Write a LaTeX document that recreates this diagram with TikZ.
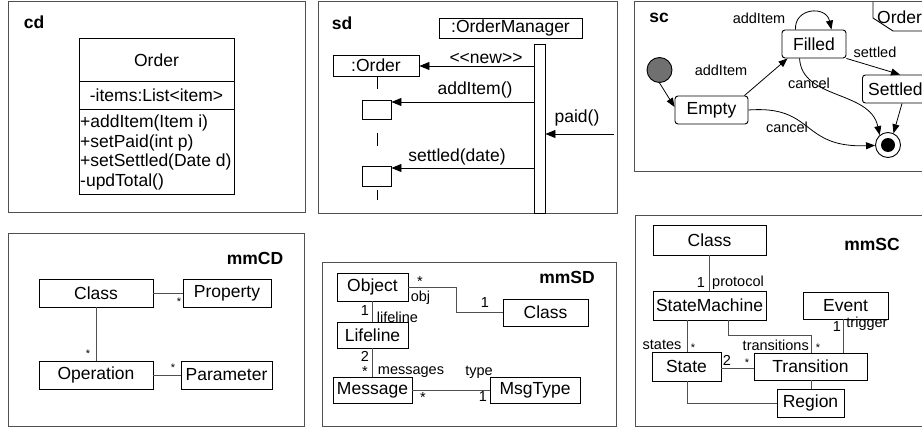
\documentclass[tikz,border=0pt]{standalone}
\usepackage{fontspec}
\setmainfont{Liberation Sans}
\usetikzlibrary{arrows.meta,calc}
\newcommand\fmain{\fontsize{17.5}{20}\selectfont}
\newcommand\fsmall{\fontsize{14.5}{16}\selectfont}
\newcommand\ftiny{\fontsize{11}{12}\selectfont}
\definecolor{frm}{RGB}{80,80,80}
\definecolor{initgray}{RGB}{112,112,112}
\begin{document}
\begin{tikzpicture}[x=1pt,y=-1pt,
 frame/.style={draw=frm,line width=1pt},
 box/.style={draw,fill=white,line width=0.9pt,inner sep=0pt,font=\fmain},
 txt/.style={inner sep=0pt,font=\fmain},
 lbl/.style={inner sep=0pt,font=\fsmall},
 ttl/.style={inner sep=0pt,font=\fmain\bfseries},
 mult/.style={inner sep=0pt,font=\ftiny},
 conn/.style={draw=frm,line width=0.9pt},
 msgarr/.style={draw,line width=0.9pt,-{Triangle[length=10pt,width=8pt]}},
 trarr/.style={draw,line width=0.8pt,-{Triangle[length=9pt,width=7pt]}},
 statebox/.style={box,rounded corners=3pt},
]
\clip (0,0) rectangle (922,428);
\fill[white] (0,0) rectangle (922,428);

% ---------------- cd ----------------
\draw[frame] (8,2) rectangle (305,212);
\node[ttl] (cdT) at (34,22) {cd};
\node[box,minimum width=155pt,minimum height=156pt] (ordC) at (156.5,116) {};
\draw[line width=0.9pt] (79,81) -- (234,81) (79,109) -- (234,109);
\node[txt] (ordN) at (156.5,60) {Order};
\node[txt] (ordA) at (156.5,95) {-items:List<item>};
\node[txt,anchor=west] (m1) at (80,123) {+addItem(Item i)};
\node[txt,anchor=west] (m2) at (80,142.5) {+setPaid(int p)};
\node[txt,anchor=west] (m3) at (80,162) {+setSettled(Date d)};
\node[txt,anchor=west] (m4) at (80,181.5) {-updTotal()};

% ---------------- sd ----------------
\draw[frame] (318,2) rectangle (617,213);
\node[ttl] (sdT) at (342,23) {sd};
\node[box,minimum width=143pt,minimum height=20pt] (om) at (510.5,28) {:OrderManager};
\node[box,minimum width=11pt,minimum height=169pt] (bar) at (539.5,128.5) {};
\node[box,minimum width=86pt,minimum height=21pt] (ordO) at (376,65.5) {:Order};
\node[box,minimum width=29pt,minimum height=19pt] (act1) at (376.5,109.5) {};
\node[box,minimum width=29pt,minimum height=20pt] (act2) at (376.5,176) {};
\coordinate (lifeEnd) at (377,200);
\draw[line width=0.9pt,dash pattern=on 13pt off 44pt] (ordO.south -| lifeEnd) -- (lifeEnd);
\coordinate (yNew) at (0,66);
\coordinate (yAdd) at (0,102);
\coordinate (ySet) at (0,168);
\coordinate (pdS) at (614,134);
\draw[msgarr] (bar.west |- yNew) -- (ordO.east |- yNew);
\draw[msgarr] (bar.west |- yAdd) -- (act1.east |- yAdd);
\draw[msgarr] (pdS) -- (bar.east |- pdS);
\draw[msgarr] (bar.west |- ySet) -- (act2.east |- ySet);
\node[txt] (lNew) at (486,58) {<\kern0pt<new>\kern0pt>};
\node[txt] (lAdd) at (475,90) {addItem()};
\node[txt] (lPaid) at (577,118) {paid()};
\node[txt] (lSet) at (457,157) {settled(date)};

% ---------------- sc ----------------
\draw[frame] (634,2) rectangle (935,171);
\node[ttl] (scT) at (659,18) {sc};
\draw[line width=0.9pt] (873,2) -- (873,18) -- (893,31) -- (925,31);
\node[txt,anchor=west] (tagT) at (877,17) {Order};
\node[circle,draw,fill=initgray,line width=0.9pt,minimum size=25pt,inner sep=0pt] (init) at (659.5,70) {};
\node[statebox,minimum width=73pt,minimum height=28pt] (empty) at (711.5,110) {Empty};
\node[statebox,minimum width=64pt,minimum height=28pt] (filled) at (814,44) {Filled};
\node[statebox,minimum width=66pt,minimum height=28pt,anchor=west] (settled) at (862,89) {Settled};
\node[circle,draw,fill=white,line width=0.9pt,minimum size=25pt,inner sep=0pt] (final) at (888,145) {};
\node[circle,fill=black,minimum size=14pt,inner sep=0pt] (finalIn) at (final) {};
\draw[trarr] (init.south) -- ($(empty.west)+(0,-3)$);
\draw[trarr] ($(empty.north east)+(-4,0)$) -- ($(filled.south west)+(6,0)$);
\draw[trarr] ($(filled.north west)+(14,0)$) .. controls (794,8) and (826,5) .. ($(filled.north east)+(-15,0)$);
\draw[trarr] ($(filled.south east)+(0,0)$) -- ($(settled.north west)+(38,0)$);
\draw[trarr] ($(filled.south west)+(18,0)$) .. controls (802,100) and (870,90) .. (final.130);
\draw[trarr] (empty.east) .. controls (815,105) and (800,148) .. (final.182);
\draw[trarr] ($(settled.south west)+(40,0)$) -- (final.65);
\node[lbl] (lAdd1) at (721,70) {addItem};
\node[lbl] (lAdd2) at (759,18) {addItem};
\node[lbl] (lSettled) at (875,52) {settled};
\node[lbl] (lCan1) at (809,83) {cancel};
\node[lbl] (lCan2) at (787,127) {cancel};

% ---------------- mmCD ----------------
\draw[frame] (8,233) rectangle (304,426);
\node[ttl] (mmcdT) at (255,258) {mmCD};
\node[box,minimum width=114pt,minimum height=28pt] (cdClass) at (96,293) {Class};
\node[box,minimum width=88pt,minimum height=28pt] (cdProp) at (227,293) {Property};
\node[box,minimum width=114pt,minimum height=28pt] (cdOp) at (96,375) {Operation};
\node[box,minimum width=91pt,minimum height=28pt] (cdPar) at (226.5,375) {Parameter};
\draw[conn] (cdClass.east) -- (cdProp.west);
\draw[conn] (cdClass.south) -- (cdOp.north);
\draw[conn] (cdOp.east) -- (cdPar.west);
\node[mult] (s1) at (179,302) {*};
\node[mult] (s2) at (88,354) {*};
\node[mult] (s3) at (173,368) {*};

% ---------------- mmSD ----------------
\draw[frame] (322,262) rectangle (616,426);
\node[ttl] (mmsdT) at (567,277) {mmSD};
\node[box,minimum width=71pt,minimum height=28pt] (sdObj) at (372.5,287) {Object};
\node[box,minimum width=85pt,minimum height=27pt] (sdCls) at (545.5,312.5) {Class};
\node[box,minimum width=71pt,minimum height=26pt] (sdLife) at (372.5,335) {Lifeline};
\node[box,minimum width=79pt,minimum height=26pt] (sdMsg) at (372.5,390) {Message};
\node[box,minimum width=90pt,minimum height=26pt] (sdType) at (535,390) {MsgType};
\draw[conn] (sdObj.east) -- ++(48,0) |- (sdCls.west);
\draw[conn] (sdObj.south) -- (sdLife.north);
\draw[conn] (sdLife.south) -- (sdMsg.north);
\draw[conn] (sdMsg.east) -- (sdType.west);
\node[lbl] (d1) at (420,282) {*};
\node[lbl] (d2) at (420.5,298) {obj};
\node[lbl] (d3) at (485,303) {1};
\node[lbl] (d4) at (365,311) {1};
\node[lbl] (d5) at (397.5,317) {lifeline};
\node[lbl] (d6) at (365,356) {2};
\node[lbl] (d7) at (365,371.5) {*};
\node[lbl] (d8) at (411,372) {messages};
\node[lbl] (d9) at (479,372) {type};
\node[lbl] (d10) at (423,398) {*};
\node[lbl] (d11) at (483,397) {1};

% ---------------- mmSC ----------------
\draw[frame] (635,215) rectangle (935,426);
\node[ttl] (mmscT) at (872,244) {mmSC};
\node[box,minimum width=113pt,minimum height=30pt] (scClass) at (709.5,240) {Class};
\node[box,minimum width=113pt,minimum height=29pt] (scSM) at (709.5,305.5) {StateMachine};
\node[box,minimum width=85pt,minimum height=27pt] (scEv) at (845.5,305.5) {Event};
\node[box,minimum width=69pt,minimum height=29pt] (scSt) at (686.5,366.5) {State};
\node[box,minimum width=113pt,minimum height=27pt] (scTr) at (810.5,366.5) {Transition};
\node[box,minimum width=67pt,minimum height=28pt] (scReg) at (810.5,403) {Region};
\coordinate (xSt) at (687,0);
\coordinate (xTrs) at (728,0);
\coordinate (xTrT) at (811,0);
\coordinate (xEv) at (843,0);
\coordinate (ySM) at (0,335);
\coordinate (yStTr) at (0,368);
\draw[conn] (scClass.south) -- (scSM.north);
\draw[conn] (scSM.south -| xSt) -- (scSt.north -| xSt);
\draw[conn] (scSM.south -| xTrs) -- (xTrs |- ySM) -- (xTrT |- ySM) -- (scTr.north -| xTrT);
\draw[conn] (scSt.east |- yStTr) -- (scTr.west |- yStTr);
\draw[conn] (scEv.south -| xEv) -- (scTr.north -| xEv);
\draw[conn] (scTr.south -| xTrT) -- (scReg.north -| xTrT);
\draw[conn] (scSt.south -| xSt) |- (scReg.west);
\node[lbl] (e1) at (701,283) {1};
\node[lbl] (e2) at (738,283) {protocol};
\node[lbl] (e3) at (662,345) {states};
\node[mult] (e4) at (693,348) {*};
\node[lbl,anchor=east] (e5) at (809,345) {transitions};
\node[mult] (e6) at (818,348) {*};
\node[lbl] (e7) at (727,360) {2};
\node[mult] (e8) at (747,363) {*};
\node[lbl] (e9) at (837,327) {1};
\node[lbl] (e10) at (867,324) {trigger};
\end{tikzpicture}
\end{document}
